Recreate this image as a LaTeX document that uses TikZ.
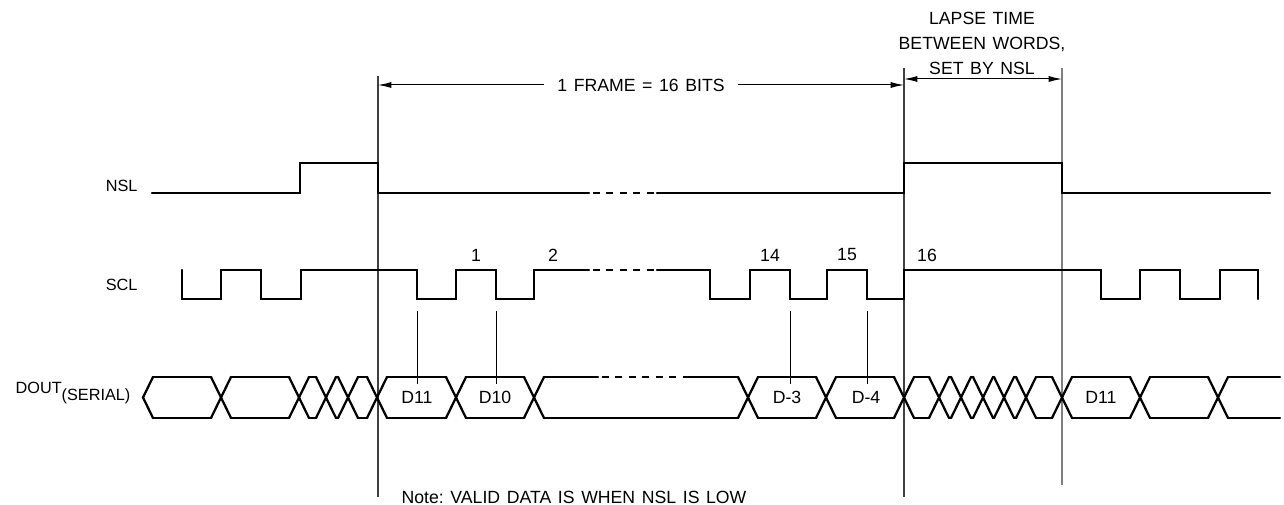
\documentclass[tikz,border=0pt]{standalone}
\usepackage{fontspec}
\setmainfont{Liberation Sans}[WordSpace=1.35]
\usetikzlibrary{arrows.meta}
\begin{document}
\frenchspacing
\begin{tikzpicture}[x=0.75pt,y=-0.75pt,
  sig/.style={line width=1.7pt, line cap=round, line join=miter},
  sigdash/.style={line width=1.7pt, dash pattern=on 5.2pt off 4.9pt},
  refline/.style={line width=0.8pt, black!75},
  refgray/.style={line width=0.9pt, black!50},
  tick/.style={line width=0.75pt, black},
  dim/.style={line width=0.75pt, {Latex[length=10pt,width=4.5pt]}-{Latex[length=10pt,width=4.5pt]}},
  lbl/.style={font=\fontsize{13.25}{15}\selectfont, inner sep=1pt},
  side/.style={font=\fontsize{12.2}{14}\selectfont, inner sep=1pt},
  every node/.style={font=\fontsize{13.25}{15}\selectfont}]
\useasboundingbox (0,0) rectangle (1284,505);

% reference coordinates
\coordinate (r1t) at (378,76);  \coordinate (r1b) at (378,497);
\coordinate (r2t) at (904,68);  \coordinate (r2b) at (904,497);
\coordinate (r3t) at (1062,68); \coordinate (r3b) at (1062,485);
\coordinate (fa) at (378,85);   \coordinate (fb) at (904,85);
\coordinate (la) at (904,79);   \coordinate (lb) at (1062,79);

% vertical reference lines
\draw[refline] (r1t) -- (r1b);
\draw[refline] (r2t) -- (r2b);
\draw[refgray] (r3t) -- (r3b);

% dimension arrows
\draw[dim] (fa) -- (fb) node[midway, fill=white, inner xsep=10pt, inner ysep=2pt] (frame) {1 FRAME = 16 BITS};
\draw[dim] (la) -- (lb);

% top label
\node[lbl, align=center, font=\fontsize{13.25}{18.75}\selectfont] (lapse) at (982,43) {LAPSE TIME\\BETWEEN WORDS,\\SET BY NSL};

% signal names
\node[side, anchor=east] (nsl) at (139,186) {NSL};
\node[side, anchor=east] (scl) at (139,285) {SCL};
\node[side, anchor=east] (dout) at (132,393) {DOUT\raisebox{-0.8ex}{(SERIAL)}};

% NSL
\draw[sig] (152,193) -- (300,193) -- (300,163) -- (378,163) -- (378,193) -- (589,193);
\draw[sigdash] (593,193) -- (660,193);
\draw[sig] (657,193) -- (904,193) -- (904,163) -- (1062,163) -- (1062,193) -- (1270,193);

% SCL
\draw[sig] (182,270) -- (182,299) -- (221,299) -- (221,270) -- (261,270) -- (261,299) -- (301,299) -- (301,270)
  -- (417,270) -- (417,299) -- (456,299) -- (456,270) -- (496,270) -- (496,299) -- (534,299) -- (534,270) -- (589,270);
\draw[sigdash] (593,270) -- (660,270);
\draw[sig] (657,270) -- (710,270) -- (710,299) -- (750,299) -- (750,270) -- (790,270) -- (790,299) -- (827,299)
  -- (827,270) -- (867,270) -- (867,299) -- (904,299) -- (904,270) -- (1101,270) -- (1101,299) -- (1140,299)
  -- (1140,270) -- (1180,270) -- (1180,299) -- (1220,299) -- (1220,270) -- (1258,270) -- (1258,299);

% SCL numbers
\node[lbl] (n1) at (476,255) {1};
\node[lbl] (n2) at (553,255) {2};
\node[lbl] (n14) at (770,255) {14};
\node[lbl] (n15) at (847,255) {15};
\node[lbl] (n16) at (927,255) {16};

% ticks from SCL edges to data
\foreach \t in {417,496,790,867} \draw[tick] (\t,311) -- (\t,384);

% DOUT bus
\draw[sig] (153,377) -- (143,397.5) -- (153,418);
\foreach \c in {221,299,326,348,377,456,534,748,826,904,939,961,983,1004,1026,1062,1140,1218}
  \draw[sig] (\c-10,377) -- (\c+10,418) (\c-10,418) -- (\c+10,377);
\foreach \a/\b in {153/211,231/289,309/316,336/338,358/367,387/446,466/524,758/816,836/894,914/929,949/951,971/973,993/994,1014/1016,1036/1052,1072/1130,1150/1208,1228/1280}
  \draw[sig] (\a,377) -- (\b,377) (\a,418) -- (\b,418);
\draw[sig] (544,377) -- (598,377);
\draw[sigdash] (602,377) -- (690,377);
\draw[sig] (690,377) -- (738,377);
\draw[sig] (544,418) -- (738,418);

% data labels
\node[lbl] (d11) at (417,397.5) {D11};
\node[lbl] (d10) at (495,397.5) {D10};
\node[lbl] (dm3) at (787,397.5) {D-3};
\node[lbl] (dm4) at (866,397.5) {D-4};
\node[lbl] (d11b) at (1101,397.5) {D11};

% note
\node[lbl, anchor=west] (note) at (400,497) {Note: VALID DATA IS WHEN NSL IS LOW};
\end{tikzpicture}
\end{document}
